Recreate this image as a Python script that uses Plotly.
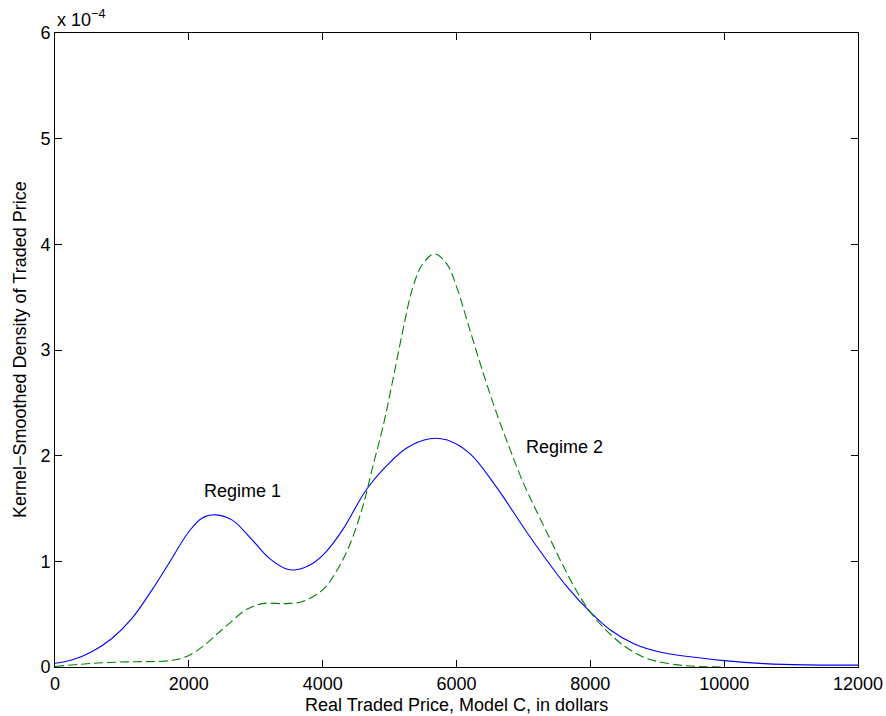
import plotly.graph_objects as go

# Values in units of 1e-4
price_blue = [0, 250, 550, 850, 1150, 1450, 1700, 2000, 2200, 2400, 2650, 2950, 3200, 3450,
              3600, 3850, 4050, 4300, 4650, 4950, 5250, 5600, 5850, 6200, 6600, 7100, 7650,
              8000, 8300, 8650, 9050, 9650, 10000, 10600, 11200, 12000]
density_regime1 = [0.035, 0.066, 0.145, 0.27, 0.46, 0.73, 0.98, 1.28, 1.41, 1.44, 1.39, 1.20,
                   1.03, 0.93, 0.92, 0.98, 1.09, 1.30, 1.675, 1.90, 2.07, 2.16, 2.15, 2.02,
                   1.70, 1.23, 0.76, 0.52, 0.35, 0.22, 0.14, 0.085, 0.06, 0.032, 0.02, 0.018]

price_green = [0, 700, 1200, 1550, 1800, 2000, 2200, 2400, 2600, 2850, 3100, 3450, 3700, 4000,
               4200, 4400, 4600, 4750, 4900, 5050, 5200, 5350, 5500, 5670, 5850, 6000, 6200,
               6400, 6600, 6800, 7000, 7200, 7400, 7600, 7850, 8100, 8350, 8550, 8850, 9300,
               9700, 10000]
density_regime2 = [0.005, 0.04, 0.05, 0.053, 0.068, 0.11, 0.19, 0.30, 0.41, 0.54, 0.60, 0.60,
                   0.62, 0.73, 0.90, 1.15, 1.52, 1.90, 2.27, 2.72, 3.19, 3.60, 3.82, 3.91, 3.82,
                   3.60, 3.19, 2.78, 2.40, 2.06, 1.74, 1.47, 1.21, 0.95, 0.66, 0.44, 0.28, 0.18,
                   0.08, 0.02, 0.003, 0.0]

x_ticks = [0, 2000, 4000, 6000, 8000, 10000, 12000]
y_ticks = [0, 1, 2, 3, 4, 5, 6]

FONT = "Liberation Sans, Arial, Helvetica, sans-serif"
FS = 18

fig = go.Figure()
fig.add_trace(go.Scatter(x=price_blue, y=density_regime1, mode="lines",
                         line=dict(color="#0000ff", width=1.1, shape="spline", smoothing=1.0),
                         showlegend=False))
fig.add_trace(go.Scatter(x=price_green, y=density_regime2, mode="lines",
                         line=dict(color="#008000", width=1.1, dash="9px,4px", shape="spline", smoothing=1.0),
                         showlegend=False))

fig.add_annotation(x=2200, y=1.67, text="Regime 1", showarrow=False, xanchor="left",
                   font=dict(size=FS, color="black", family=FONT))
fig.add_annotation(x=7010, y=2.08, text="Regime 2", showarrow=False, xanchor="left",
                   font=dict(size=FS, color="black", family=FONT))
fig.add_annotation(xref="paper", yref="paper", x=0, y=1, yshift=1, xanchor="left", yanchor="bottom",
                   text="x 10<sup>−4</sup>", showarrow=False,
                   font=dict(size=FS, color="black", family=FONT))
# axis titles
fig.add_annotation(xref="paper", yref="paper", x=0.5, y=0, yshift=-38, xanchor="center", yanchor="middle",
                   text="Real Traded Price, Model C, in dollars", showarrow=False,
                   font=dict(size=FS, color="black", family=FONT))
fig.add_annotation(xref="paper", yref="paper", x=0, y=0.5, xshift=-35, xanchor="center", yanchor="middle",
                   text="Kernel−Smoothed Density of Traded Price", showarrow=False, textangle=-90,
                   font=dict(size=FS, color="black", family=FONT))

axis_common = dict(showline=True, linecolor="black", linewidth=1, mirror="allticks",
                   ticks="inside", ticklen=7, tickcolor="black", showgrid=False, zeroline=False,
                   automargin=False, tickfont=dict(size=FS, color="black", family=FONT))

fig.update_xaxes(range=[0, 12000], tickvals=x_ticks, ticktext=[str(v) for v in x_ticks],
                 **axis_common)
fig.update_yaxes(range=[0, 6], tickvals=y_ticks, ticktext=[str(v) for v in y_ticks],
                 **axis_common)

fig.update_layout(width=886, height=716, margin=dict(l=55, r=28, t=33, b=49, autoexpand=False),
                  plot_bgcolor="white", paper_bgcolor="white",
                  font=dict(family=FONT, color="black"))

fig.write_html("out.html", config={"displayModeBar": False},
               post_script="document.body.style.margin='0px';document.body.style.padding='0px';")
